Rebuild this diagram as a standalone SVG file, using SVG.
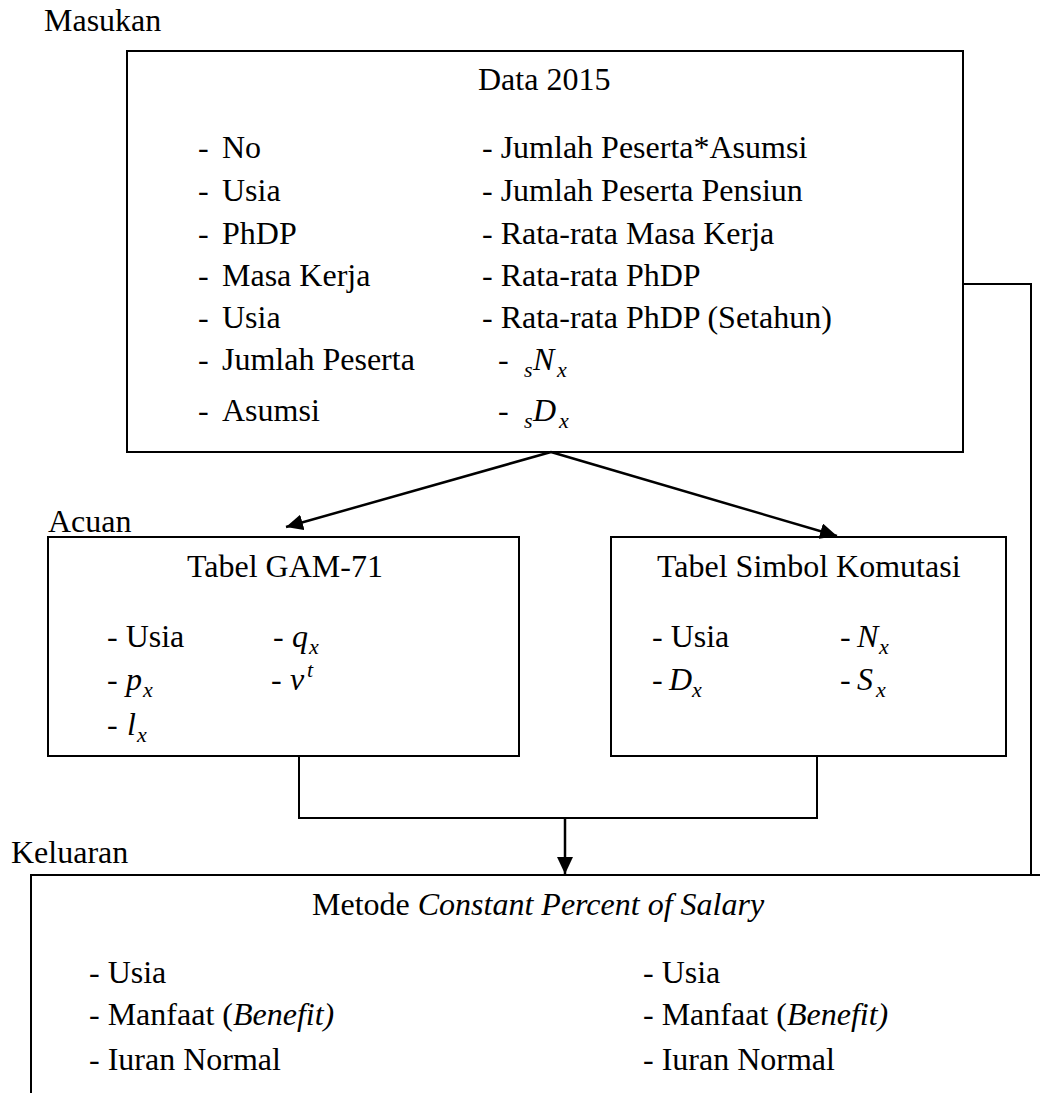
<svg xmlns="http://www.w3.org/2000/svg" width="1040" height="1093" viewBox="0 0 1040 1093" font-family="'Liberation Serif', 'DejaVu Serif', serif">
<style>
text{font-family:'Liberation Serif','DejaVu Serif',serif;font-size:32px;fill:#000}
.m{font-style:italic}
.sub{font-style:italic;font-size:22px}
.box{fill:#fff;stroke:#000;stroke-width:2}
.ln{fill:none;stroke:#000;stroke-width:2}
.ar{fill:none;stroke:#000;stroke-width:2.5}
</style>
<defs>
<marker id="ah" markerUnits="userSpaceOnUse" markerWidth="18" markerHeight="16" refX="17" refY="8" orient="auto">
<path d="M0,0 L17,8 L0,16 z" fill="#000"/>
</marker>
</defs>
<rect width="1040" height="1093" fill="#fff"/>
<text x="44" y="31">Masukan</text>
<text x="48" y="532">Acuan</text>
<text x="11" y="863">Keluaran</text>

<g id="data2015">
<rect class="box" x="127" y="51" width="836" height="401"/>
<text x="478" y="90">Data 2015</text>
<text x="198" y="158">-</text><text x="222" y="158">No</text>
<text x="198" y="201">-</text><text x="222" y="201">Usia</text>
<text x="198" y="244">-</text><text x="222" y="244">PhDP</text>
<text x="198" y="286">-</text><text x="222" y="286">Masa Kerja</text>
<text x="198" y="328">-</text><text x="222" y="328">Usia</text>
<text x="198" y="370">-</text><text x="222" y="370">Jumlah Peserta</text>
<text x="198" y="421">-</text><text x="222" y="421">Asumsi</text>
<text x="482" y="158">- Jumlah Peserta*Asumsi</text>
<text x="482" y="201">- Jumlah Peserta Pensiun</text>
<text x="482" y="244">- Rata-rata Masa Kerja</text>
<text x="482" y="286">- Rata-rata PhDP</text>
<text x="482" y="328">- Rata-rata PhDP (Setahun)</text>
<text x="498" y="370">-</text><text class="sub" x="524" y="377">s</text><text class="m" x="533" y="370">N</text><text class="sub" x="557" y="377">x</text>
<text x="498" y="421">-</text><text class="sub" x="524" y="428">s</text><text class="m" x="533" y="421">D</text><text class="sub" x="559" y="428">x</text>
</g>

<g id="gam71">
<rect class="box" x="48" y="537" width="471" height="219"/>
<text x="187" y="577">Tabel GAM-71</text>
<text x="107" y="647">- Usia</text>
<text x="273" y="647">-</text><text class="m" x="292" y="647">q</text><text class="sub" x="309" y="654">x</text>
<text x="107" y="690">-</text><text class="m" x="126" y="690">p</text><text class="sub" x="143" y="697">x</text>
<text x="271" y="690">-</text><text class="m" x="290" y="690">v</text><text class="sub" x="307" y="677">t</text>
<text x="107" y="735">-</text><text class="m" x="127" y="735">l</text><text class="sub" x="137" y="742">x</text>
</g>

<g id="komutasi">
<rect class="box" x="611" y="537" width="395" height="219"/>
<text x="657" y="577">Tabel Simbol Komutasi</text>
<text x="652" y="647">- Usia</text>
<text x="840" y="647">-</text><text class="m" x="857" y="647">N</text><text class="sub" x="879" y="654">x</text>
<text x="652" y="690">-</text><text class="m" x="669" y="690">D</text><text class="sub" x="692" y="697">x</text>
<text x="840" y="690">-</text><text class="m" x="857" y="690">S</text><text class="sub" x="876" y="697">x</text>
</g>

<g id="metode">
<rect class="box" x="31" y="875" width="1100" height="300"/>
<text x="312" y="915">Metode <tspan class="m">Constant Percent of Salary</tspan></text>
<text x="89" y="983">- Usia</text>
<text x="89" y="1025">- Manfaat (<tspan class="m">Benefit)</tspan></text>
<text x="89" y="1070">- Iuran Normal</text>
<text x="643" y="983">- Usia</text>
<text x="643" y="1025">- Manfaat (<tspan class="m">Benefit)</tspan></text>
<text x="643" y="1070">- Iuran Normal</text>
</g>

<g id="connectors">
<polyline class="ln" points="963,284 1031,284 1031,875"/>
<line class="ar" x1="551" y1="452" x2="286" y2="527" marker-end="url(#ah)"/>
<line class="ar" x1="551" y1="452" x2="837" y2="536" marker-end="url(#ah)"/>
<polyline class="ln" points="299,756 299,818 817,818 817,756"/>
<line class="ar" x1="565" y1="818" x2="565" y2="874" marker-end="url(#ah)"/>
</g>
</svg>
